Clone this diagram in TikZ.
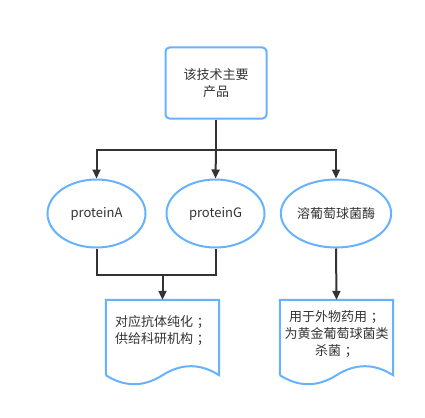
\documentclass[tikz,border=0pt]{standalone}
\usepackage{fontspec}
\setmainfont{Noto Sans CJK SC}
\usetikzlibrary{shapes.geometric,arrows.meta,calc,positioning}
\definecolor{flowblue}{HTML}{66B2FF}
\definecolor{flowgray}{HTML}{333333}
\newcommand{\semi}{\hspace{0.3em}；}
\tikzset{
  box/.style={draw=flowblue, line width=2pt, rounded corners=4pt, minimum width=101pt, minimum height=71pt, align=center, text=flowgray, font=\fontsize{13}{17}\selectfont},
  oval/.style={ellipse, draw=flowblue, line width=2pt, minimum width=98pt, minimum height=68pt, inner sep=0pt, text=flowgray, font=\fontsize{13}{17}\selectfont},
  doc/.style={minimum width=113pt, minimum height=75pt, inner sep=0pt, align=center, text=flowgray, font=\fontsize{13}{17}\selectfont},
  doctext/.style={text=flowgray, align=center, font=\fontsize{13}{17}\selectfont},
  docline/.style={draw=flowblue, line width=2pt},
  link/.style={draw=flowgray, line width=2pt},
  arr/.style={link, -{Triangle[length=9pt,width=8pt]}}
}
\begin{document}
\begin{tikzpicture}[x=1pt,y=-1pt]
        \useasboundingbox (0,0) rectangle (425,417);
        % Top box
        \node[box] (prod) at (216,83) {该技术主要\\产品};
        % Products
        \node[oval] (pa) at (96.5,213.5) {proteinA};
        \node[oval] (pg) at (215.5,213.5) {proteinG};
        \node[oval] (pc) at (336,213.5) {溶葡萄球菌酶};
        % Documents
        \node[doc] (d1) at (162.5,337.5) {};
        \node[doc] (d2) at (336.5,337.5) {};
        \node[doctext] (t1) at (162.5,331) {对应抗体纯化\semi\\供给科研机构\semi};
        \node[doctext] (t2) at (336.5,334) {用于外物药用\semi\\为黄金葡萄球菌类\\杀菌\semi};
        \foreach \d in {d1,d2}
          \draw[docline] (\d.south west) -- (\d.north west) -- (\d.north east) -- (\d.south east)
            .. controls ++(-19,-12) and ++(19,-12) .. ($(\d.south west)!0.5!(\d.south east)$)
            .. controls ++(-19,12) and ++(19,12) .. (\d.south west);
        % Split to products
        \draw[link] (prod.south) -- ++(0,30) coordinate (split);
        \draw[arr] (split) -| (pa.north);
        \draw[arr] (split) -- (pg.north);
        \draw[arr] (split) -| (pc.north);
        % Join to documents
        \draw[link] (pa.south) -- ++(0,26) coordinate (join) -| (pg.south);
        \draw[arr] (d1.north |- join) -- (d1.north);
        \draw[arr] (pc.south) -- (d2.north);
      \end{tikzpicture}
\end{document}
